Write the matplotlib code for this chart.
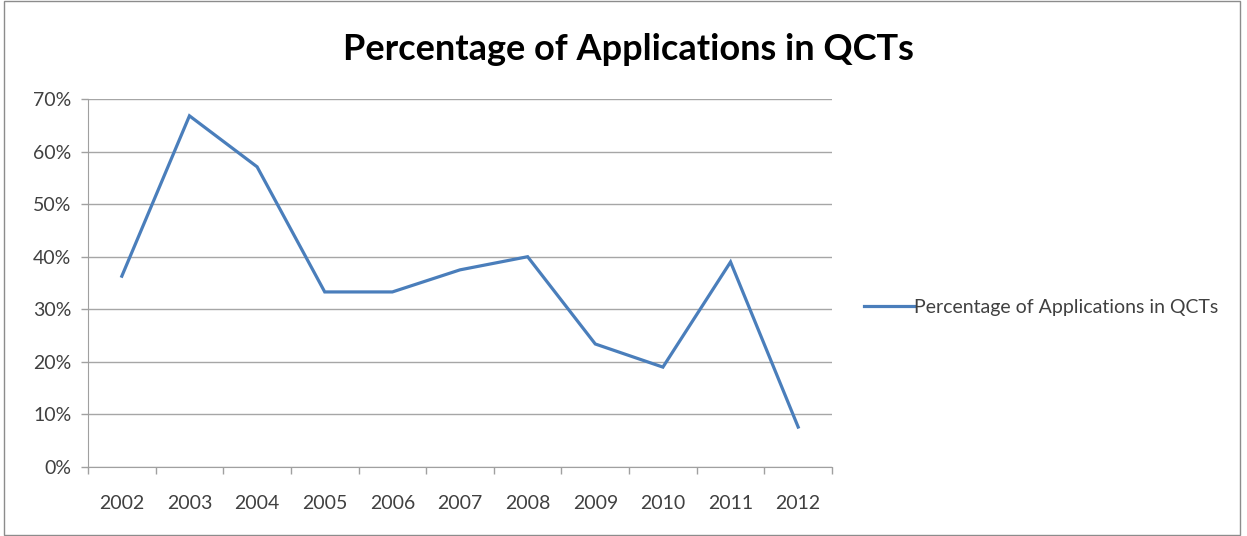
import matplotlib
matplotlib.use("Agg")
import matplotlib.pyplot as plt
from matplotlib.patches import Rectangle
from matplotlib.ticker import PercentFormatter, FixedLocator

years = ["2002", "2003", "2004", "2005", "2006", "2007", "2008", "2009", "2010", "2011", "2012"]
pct = [36.3, 66.8, 57.1, 33.3, 33.3, 37.5, 40.0, 23.4, 19.0, 39.0, 7.6]
series_name = "Percentage of Applications in QCTs"
title = "Percentage of Applications in QCTs"

plt.rcParams['font.family'] = ['Lato', 'DejaVu Sans']

fig = plt.figure(figsize=(12.47, 5.36), dpi=100)
ax = fig.add_axes([88/1247, 1-467/536, (832-88)/1247, (467-99)/536])

x = list(range(len(years)))
line, = ax.plot(x, pct, color="#4A7EBB", lw=2.3, solid_joinstyle="miter", label=series_name)

ax.set_xlim(-0.5, len(years)-0.5)
ax.set_ylim(0, 70)
ax.set_yticks(range(0, 71, 10))
ax.yaxis.set_major_formatter(PercentFormatter(decimals=0))
ax.set_xticks(x)
ax.set_xticklabels(years)
ax.xaxis.set_minor_locator(FixedLocator([i - 0.5 for i in range(len(years)+1)]))
ax.tick_params(axis='x', which='major', length=0, pad=20, labelsize=14, colors="#404040")
ax.tick_params(axis='x', which='minor', length=5, color="#A0A0A0", width=1)
ax.tick_params(axis='y', which='major', length=5, color="#A0A0A0", width=1, labelsize=14, colors="#404040", pad=7)
ax.grid(axis='y', color="#A6A6A6", lw=1)
ax.set_axisbelow(True)
for s in ["top", "right"]:
    ax.spines[s].set_visible(False)
ax.spines["left"].set_color("#A0A0A0")
ax.spines["bottom"].set_color("#A0A0A0")

fig.text(628/1247, 1-50/536, title, ha="center", va="center", fontsize=26, fontweight="bold", color="black")

leg = fig.legend(handles=[line], loc="center left", bbox_to_anchor=(846/1247, 1-307/536),
                 frameon=False, fontsize=14, handlelength=2.6, handletextpad=0.0, labelcolor="#404040")

fig.patches.append(Rectangle((4/1247, 0.002), 1236/1247, 0.996, transform=fig.transFigure,
                             fill=False, edgecolor="#8C8C8C", lw=1))

fig.savefig("out.png", dpi=100)
